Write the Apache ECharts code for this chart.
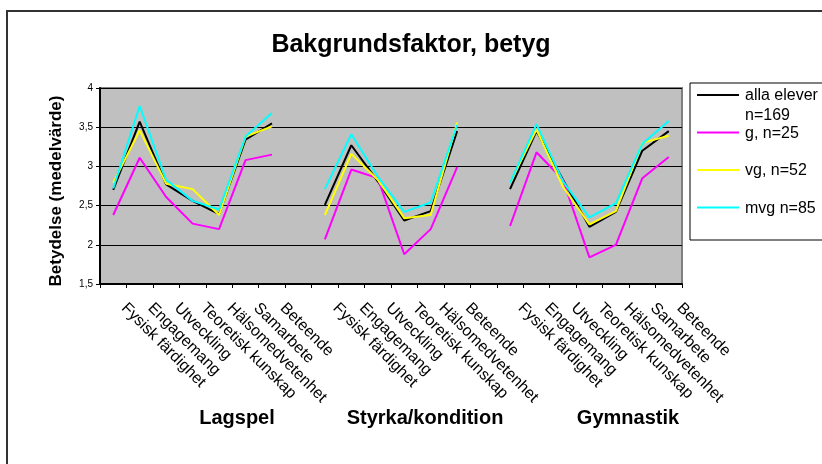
<!DOCTYPE html>
<html>
<head>
<meta charset="utf-8">
<script src="https://cdn.jsdelivr.net/npm/echarts@6/dist/echarts.min.js"></script>
<style>html,body{margin:0;padding:0;background:#fff}#c{width:822px;height:464px}</style>
</head>
<body>
<div id="c"></div>
<script>
const titleText = 'Bakgrundsfaktor, betyg';
const yAxisName = 'Betydelse (medelvärde)';
const categories = [
  'Fysisk färdighet','Engagemang','Utveckling','Teoretisk kunskap','Hälsomedvetenhet','Samarbete','Beteende','',
  'Fysisk färdighet','Engagemang','Utveckling','Teoretisk kunskap','Hälsomedvetenhet','Beteende','',
  'Fysisk färdighet','Engagemang','Utveckling','Teoretisk kunskap','Hälsomedvetenhet','Samarbete','Beteende'
];
const groupNames = ['Lagspel', 'Styrka/kondition', 'Gymnastik'];
const seriesNames = ['alla elever\nn=169', 'g, n=25', 'vg, n=52', 'mvg n=85'];
const seriesColors = ['#000000', '#ff00ff', '#ffff00', '#00ffff'];
const alla = [2.70,3.57,2.77,2.56,2.39,3.34,3.55,null, 2.51,3.27,2.81,2.31,2.43,3.45,null, 2.71,3.45,2.83,2.23,2.42,3.20,3.45];
const g    = [2.38,3.11,2.61,2.27,2.20,3.08,3.15,null, 2.07,2.96,2.85,1.88,2.20,2.99,null, 2.24,3.18,2.83,1.84,2.00,2.85,3.12];
const vg   = [2.79,3.46,2.78,2.71,2.38,3.38,3.51,null, 2.38,3.16,2.83,2.34,2.38,3.56,null, 2.79,3.47,2.74,2.26,2.43,3.30,3.39];
const mvg  = [2.72,3.77,2.83,2.56,2.45,3.38,3.68,null, 2.71,3.41,2.87,2.42,2.54,3.53,null, 2.79,3.54,2.81,2.35,2.53,3.29,3.58];
const seriesData = [alla, g, vg, mvg];
const yMin = 1.5, yMax = 4, yStep = 0.5;

const FONT = '"Liberation Sans", Arial, Helvetica, sans-serif';
const chart = echarts.init(document.getElementById('c'), null, {renderer: 'canvas'});

const legendTop = 95, legendStep = 37.5;
const legendGraphics = [
  {type: 'rect', shape: {x: 690, y: 83, width: 160, height: 157}, style: {fill: '#fff', stroke: '#000', lineWidth: 1}, z: 10}
];
seriesNames.forEach((n, i) => {
  const y = legendTop + i * legendStep;
  legendGraphics.push({type: 'line', shape: {x1: 697, y1: y, x2: 739, y2: y}, style: {stroke: seriesColors[i], lineWidth: 2}, z: 11});
  legendGraphics.push({type: 'text', x: 745, y: y - 9, style: {text: n, font: '16px ' + FONT, fill: '#000', lineHeight: 20, textVerticalAlign: 'top'}, z: 11});
});

const groupPos = [237, 425, 628];
const groupGraphics = groupNames.map((n, i) => ({
  type: 'text', x: groupPos[i], y: 418,
  style: {text: n, font: 'bold 20px ' + FONT, fill: '#000', textAlign: 'center', textVerticalAlign: 'middle'}
}));

chart.setOption({
  animation: false,
  backgroundColor: '#fff',
  title: {
    text: titleText, left: 'center', top: 28,
    textStyle: {fontFamily: FONT, fontSize: 25, fontWeight: 'bold', color: '#000'}
  },
  grid: {
    left: 100, right: 140, top: 88, bottom: 180, containLabel: false,
    show: true, backgroundColor: '#c0c0c0', borderColor: '#808080', borderWidth: 2
  },
  xAxis: {
    type: 'category', data: categories, boundaryGap: true,
    axisLine: {show: true, lineStyle: {color: '#000', width: 2}},
    axisTick: {show: true, length: 4, inside: false, interval: 0, lineStyle: {color: '#000'}},
    axisLabel: {interval: 0, rotate: -45, margin: 11, padding: [0, 0, 0, 15], fontFamily: FONT, fontSize: 16, color: '#000'},
    splitLine: {show: false}
  },
  yAxis: {
    type: 'value', min: yMin, max: yMax, interval: yStep,
    name: yAxisName, nameLocation: 'middle', nameGap: 35,
    nameTextStyle: {fontFamily: FONT, fontSize: 17, fontWeight: 'bold', color: '#000', padding: [0, 10, 0, 0]},
    axisLine: {show: true, lineStyle: {color: '#000', width: 2}},
    axisTick: {show: true, length: 4, lineStyle: {color: '#000'}},
    axisLabel: {margin: 7, fontFamily: FONT, fontSize: 10, color: '#000',
      formatter: v => String(v).replace('.', ',')},
    splitLine: {show: true, lineStyle: {color: '#000', width: 1}}
  },
  series: seriesData.map((d, i) => ({
    type: 'line', name: seriesNames[i], data: d, showSymbol: false, symbol: 'none',
    connectNulls: false, lineStyle: {color: seriesColors[i], width: 2}, itemStyle: {color: seriesColors[i]}
  })),
  graphic: [
    {type: 'rect', shape: {x: 7, y: 11, width: 900, height: 600}, style: {fill: 'none', stroke: '#333', lineWidth: 2}, z: 20}
  ].concat(legendGraphics, groupGraphics)
});
</script>
</body>
</html>
